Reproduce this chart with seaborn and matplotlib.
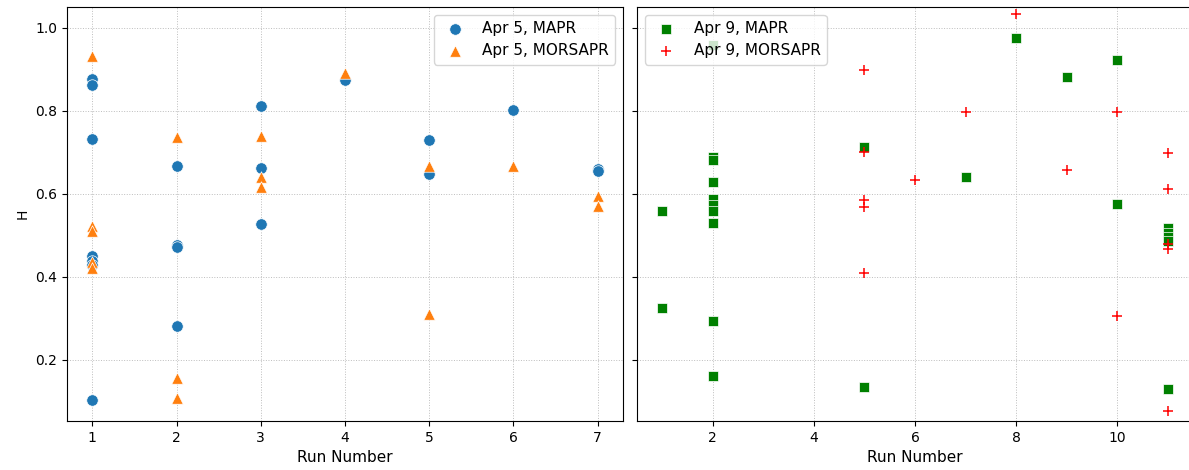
import matplotlib
matplotlib.use('Agg')
import numpy as np
import matplotlib.pyplot as plt
import seaborn as sns

# Apr 5 values
apr5_mapr_run = [1, 1, 1, 1, 1, 1, 1, 2, 2, 2, 2, 3, 3, 3, 4, 5, 5, 6, 7, 7]
apr5_mapr_h = [0.876, 0.863, 0.733, 0.449, 0.438, 0.429, 0.103,
               0.666, 0.476, 0.471, 0.281,
               0.811, 0.663, 0.528,
               0.874,
               0.729, 0.647,
               0.801,
               0.660, 0.654]
apr5_morsapr_run = [1, 1, 1, 1, 1, 2, 2, 2, 3, 3, 3, 4, 5, 5, 6, 7, 7]
apr5_morsapr_h = [0.933, 0.522, 0.510, 0.435, 0.422,
                  0.736, 0.156, 0.108,
                  0.738, 0.640, 0.616,
                  0.892,
                  0.666, 0.311,
                  0.666,
                  0.595, 0.570]

# Apr 9 values
apr9_mapr_run = [1, 1, 2, 2, 2, 2, 2, 2, 2, 2, 2, 2, 5, 5, 7, 8, 9, 10, 10,
                 11, 11, 11, 11, 11]
apr9_mapr_h = [0.558, 0.325,
               0.959, 0.688, 0.680, 0.627, 0.587, 0.572, 0.558, 0.530, 0.293, 0.160,
               0.713, 0.133,
               0.641,
               0.976,
               0.882,
               0.923, 0.575,
               0.518, 0.505, 0.495, 0.485, 0.128]
apr9_morsapr_run = [5, 5, 5, 5, 5, 6, 7, 8, 9, 10, 10, 11, 11, 11, 11, 11]
apr9_morsapr_h = [0.899, 0.700, 0.584, 0.568, 0.409,
                  0.633,
                  0.798,
                  1.033,
                  0.658,
                  0.798, 0.306,
                  0.698, 0.611, 0.478, 0.466, 0.076]

fig = plt.figure(figsize=(11.89, 4.70), dpi=100)
# right panel runs a little past the figure edge, as in the original
ax1 = fig.add_axes([67/1189, 49/470, 556/1189, 414/470])
ax2 = fig.add_axes([637/1189, 49/470, 556/1189, 414/470], sharey=ax1)

sns.scatterplot(x=apr5_mapr_run, y=apr5_mapr_h, ax=ax1, marker='o',
                color='tab:blue', s=68, linewidth=0.5, label='Apr 5, MAPR')
sns.scatterplot(x=apr5_morsapr_run, y=apr5_morsapr_h, ax=ax1, marker='^',
                color='tab:orange', s=68, linewidth=0.5, label='Apr 5, MORSAPR')

sns.scatterplot(x=apr9_mapr_run, y=apr9_mapr_h, ax=ax2, marker='s',
                color='green', s=58, linewidth=0.5, label='Apr 9, MAPR')
sns.scatterplot(x=apr9_morsapr_run, y=apr9_morsapr_h, ax=ax2, marker='+',
                color='red', s=50, linewidth=1.1, label='Apr 9, MORSAPR')

ax1.set_ylim(0.052, 1.05)
for ax in [ax1, ax2]:
    ax.grid(True, linestyle=':', color='#bdbdbd', linewidth=0.7)
    ax.set_axisbelow(True)
    ax.set_xlabel('Run Number', fontsize=11)
ax1.set_ylabel('H')
ax2.set_ylabel('')
ax2.tick_params(labelleft=False)

ax1.legend(loc='upper right', fontsize=11)
ax2.legend(loc='upper left', fontsize=11)

fig.savefig('out.png', dpi=100)
